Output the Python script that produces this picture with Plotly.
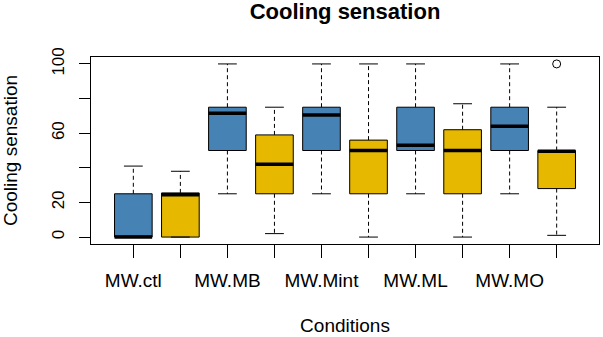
import plotly.graph_objects as go

# ---- data ----
conditions = ["MW.ctl", "MW.MB", "MW.Mint", "MW.ML", "MW.MO"]
groups = ["blue", "yellow"]
box_labels = ["MW.ctl", "", "MW.MB", "", "MW.Mint", "", "MW.ML", "", "MW.MO", ""]
lower = [0, 0, 25, 2, 25, 0, 25, 0, 25, 1]
q1 = [0, 0, 50, 25, 50, 25, 50, 25, 50, 28]
median = [0, 24.5, 71.5, 42, 70.5, 50, 53, 50, 64, 49.5]
q3 = [25, 25.5, 75, 59, 75, 56, 75, 62, 75, 50]
upper = [41, 38, 100, 75, 100, 100, 100, 77, 100, 75]
outlier_pos = [10]
outlier_val = [100]
y_ticks = [0, 20, 40, 60, 80, 100]
y_ticktext = ["0", "20", "", "60", "", "100"]

colors = ["#4682B4", "#E6B800"]
positions = list(range(1, len(q1) + 1))
BW = 0.8   # box width
CW = 0.4   # staple width

fig = go.Figure()

for i, p in enumerate(positions):
    fig.add_trace(go.Box(
        x=[p], q1=[q1[i]], median=[median[i]], q3=[q3[i]],
        lowerfence=[q1[i]], upperfence=[q3[i]],
        width=BW, whiskerwidth=0,
        fillcolor=colors[i % 2], line=dict(color="black", width=1),
        boxpoints=False, showlegend=False, hoverinfo="skip",
    ))

# dashed whiskers
wx, wy = [], []
for i, p in enumerate(positions):
    wx += [p, p, None, p, p, None]
    wy += [q3[i], upper[i], None, q1[i], lower[i], None]
fig.add_trace(go.Scatter(x=wx, y=wy, mode="lines",
                         line=dict(color="black", width=1, dash="4px,3px"),
                         showlegend=False, hoverinfo="skip"))

# staples
sx, sy = [], []
for i, p in enumerate(positions):
    sx += [p - CW / 2, p + CW / 2, None, p - CW / 2, p + CW / 2, None]
    sy += [upper[i], upper[i], None, lower[i], lower[i], None]
fig.add_trace(go.Scatter(x=sx, y=sy, mode="lines",
                         line=dict(color="black", width=1),
                         showlegend=False, hoverinfo="skip"))

# thick medians
mx, my = [], []
for i, p in enumerate(positions):
    mx += [p - BW / 2, p + BW / 2, None]
    my += [median[i], median[i], None]
fig.add_trace(go.Scatter(x=mx, y=my, mode="lines",
                         line=dict(color="black", width=3.5),
                         showlegend=False, hoverinfo="skip"))

# outliers
fig.add_trace(go.Scatter(x=outlier_pos, y=outlier_val, mode="markers",
                         marker=dict(symbol="circle-open", size=8,
                                     color="black", line=dict(width=1)),
                         showlegend=False, hoverinfo="skip"))

W, H = 603, 337
fig.update_layout(
    width=W, height=H,
    margin=dict(l=91, r=4, t=57, b=93),
    plot_bgcolor="white", paper_bgcolor="white",
    font=dict(family="Liberation Sans, Arial, sans-serif", color="black"),
    title=dict(text="<b>Cooling sensation</b>", x=345 / W, xanchor="center",
               y=1 - 11 / H, yanchor="middle", yref="container",
               font=dict(size=22, color="black")),
    xaxis=dict(
        range=[0.1, 10.9], tickmode="array", tickvals=positions,
        ticktext=box_labels, ticks="outside", ticklen=13, tickcolor="black",
        tickfont=dict(size=19), ticklabelstandoff=6,
        showline=True, linecolor="black", linewidth=1, mirror=True,
        showgrid=False, zeroline=False,
        title=dict(text="Conditions", font=dict(size=19), standoff=28),
    ),
    yaxis=dict(
        range=[-4, 104], tickmode="array", tickvals=y_ticks,
        ticktext=y_ticktext, ticks="outside", ticklen=11, tickcolor="black",
        tickfont=dict(size=17), tickangle=-90, ticklabelstandoff=8,
        showline=True, linecolor="black", linewidth=1, mirror=True,
        showgrid=False, zeroline=False,
        title=dict(text="Cooling sensation", font=dict(size=19), standoff=31),
    ),
)

# remove the browser's default 8px body margin so the figure fills the window
fig.write_html("out.html",
               config={"displayModeBar": False},
               post_script="document.body.style.margin='0';")
